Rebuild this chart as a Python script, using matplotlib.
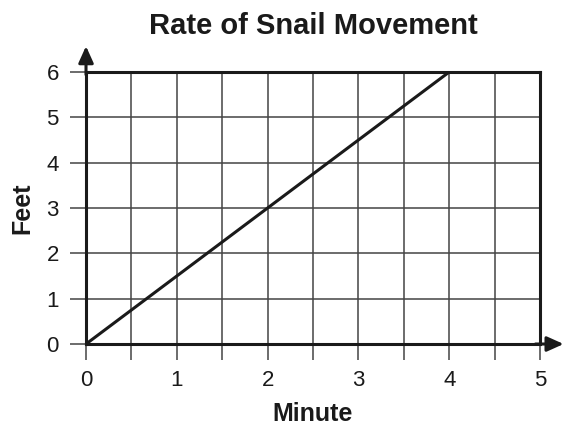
import matplotlib
matplotlib.use("Agg")
from matplotlib import pyplot as plt

plt.rcParams['font.family'] = ['Liberation Sans', 'DejaVu Sans']

minutes = [0, 4]
feet = [0, 6]
x_ticks = [0, 1, 2, 3, 4, 5]
x_minor = [0.5, 1.5, 2.5, 3.5, 4.5]
y_ticks = [0, 1, 2, 3, 4, 5, 6]

fig = plt.figure(figsize=(5.67, 4.29), dpi=100)
ax = fig.add_axes([0.1517, 0.1981, 0.8007, 0.6341])

ax.set_xlim(0, 5)
ax.set_ylim(0, 6)

# grid
for v in x_ticks[1:-1] + x_minor:
    ax.axvline(v, color='#444444', lw=1.1, zorder=1)
for v in y_ticks[1:-1]:
    ax.axhline(v, color='#444444', lw=1.1, zorder=1)

ax.plot(minutes, feet, color='#1a1a1a', lw=2.2, zorder=3)

for side in ['top', 'right', 'left', 'bottom']:
    ax.spines[side].set_color('#1a1a1a')
    ax.spines[side].set_linewidth(2.2)

ax.set_xticks(x_ticks)
ax.set_xticks(x_minor, minor=True)
ax.set_yticks(y_ticks)
ax.tick_params(axis='x', which='both', length=11.5, width=1.1, color='#444444',
               direction='out', labelsize=16, pad=7, labelcolor='#1a1a1a')
ax.tick_params(axis='y', length=11.5, width=1.1, color='#444444',
               direction='out', labelsize=16, pad=8, labelcolor='#1a1a1a')

# arrows
ax.annotate('', xy=(0, 1.095), xytext=(0, 0.99), xycoords='axes fraction',
            arrowprops=dict(arrowstyle='-|>,head_width=0.45,head_length=1.0',
                            color='#1a1a1a', lw=2.2, shrinkA=0, shrinkB=0),
            annotation_clip=False)
ax.annotate('', xy=(1.052, 0), xytext=(0.99, 0), xycoords='axes fraction',
            arrowprops=dict(arrowstyle='-|>,head_width=0.45,head_length=1.0',
                            color='#1a1a1a', lw=2.2, shrinkA=0, shrinkB=0),
            annotation_clip=False)

ax.set_title('Rate of Snail Movement', fontsize=21, fontweight='bold', pad=27,
             color='#1a1a1a')
ax.set_xlabel('Minute', fontsize=18, fontweight='bold', labelpad=8, color='#1a1a1a')
ax.set_ylabel('Feet', fontsize=18, fontweight='bold', labelpad=9, color='#1a1a1a')

fig.savefig('out.png', dpi=100)
